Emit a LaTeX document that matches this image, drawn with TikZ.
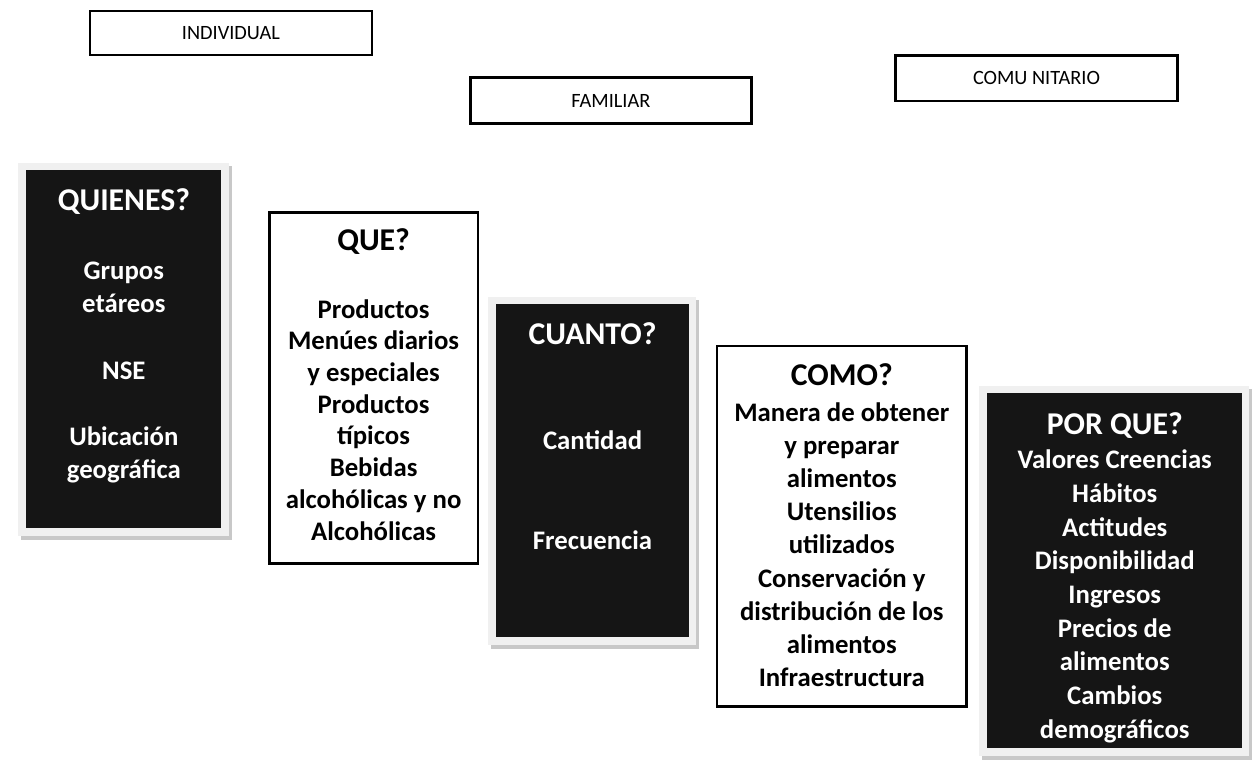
\documentclass[tikz,border=0pt]{standalone}
\usepackage{fontspec}
\setmainfont{Carlito}
\usetikzlibrary{backgrounds}
\definecolor{boxblack}{HTML}{151515}
\definecolor{framegray}{HTML}{F0F0F0}
\definecolor{shadegray}{HTML}{C8C8C8}
\tikzset{
  lbl/.style={draw=black, line width=2.5pt, fill=white, inner sep=0pt,
    font=\fontsize{20.5}{24}\selectfont},
  wbox/.style={draw=black, line width=2.5pt, fill=white, inner sep=0pt},
  bbox/.style={fill=boxblack, inner sep=0pt},
  ttl/.style={font=\bfseries\fontsize{32}{38}\selectfont, inner sep=0pt, anchor=base},
  body/.style={font=\bfseries\fontsize{27}{33.5}\selectfont, inner sep=0pt,
    anchor=base, align=flush center, text width=250pt},
  onblack/.style={text=white},
}
\newcommand\blkframe[1]{%
  \begin{scope}[on background layer]
    \fill[shadegray] ([shift={(-5,-4)}]#1.north west) rectangle ([shift={(10,12)}]#1.south east);
    \fill[framegray] ([shift={(-8,-7)}]#1.north west) rectangle ([shift={(7,8)}]#1.south east);
  \end{scope}}
\begin{document}
\begin{tikzpicture}[x=1pt,y=-1pt]
\begin{scope}[on background layer]
  \path[use as bounding box, fill=white] (0,0) rectangle (1254,760);
\end{scope}

% top labels
\node[lbl, minimum width=284.5pt, minimum height=44.5pt] (individual) at (221.5,33.5) {INDIVIDUAL};
\node[lbl, minimum width=283.5pt, minimum height=46.5pt] (familiar) at (605,101.5) {FAMILIAR};
\node[lbl, minimum width=284.5pt, minimum height=45.5pt] (comunitario) at (1034.5,79) {COMU NITARIO};

% QUIENES
\node[bbox, minimum width=197pt, minimum height=361pt] (quienes) at (113.5,352.5) {};
\blkframe{quienes}
\node[ttl, onblack] (quienesT) at (113.5,212) {QUIENES?};
\node[body, onblack] (quienesB) at (113.5,282) {Grupos\\etáreos\\[33.5pt]NSE\\[33.5pt]Ubicación\\geográfica};

% QUE
\node[wbox, minimum width=210.5pt, minimum height=354.5pt] (que) at (365.5,391.5) {};
\node[ttl] (queT) at (365.5,253) {QUE?};
\node[body, font=\bfseries\fontsize{27}{32}\selectfont] (queB) at (365.5,321) {Productos\\Menúes diarios\\y especiales\\Productos\\típicos\\Bebidas\\alcohólicas y no\\Alcohólicas};

% CUANTO
\node[bbox, minimum width=195pt, minimum height=336pt] (cuanto) at (586.5,475) {};
\blkframe{cuanto}
\node[ttl, onblack] (cuantoT) at (586.5,348) {CUANTO?};
\node[body, onblack] (cuantoB) at (586.5,454) {Cantidad\\[67pt]Frecuencia};

% COMO
\node[wbox, minimum width=251.5pt, minimum height=363.5pt] (como) at (838,531) {};
\node[ttl] (comoT) at (838,389) {COMO?};
\node[body] (comoB) at (838,425) {Manera de obtener\\y preparar\\alimentos\\Utensilios\\utilizados\\Conservación y\\distribución de los\\alimentos\\Infraestructura};

% POR QUE
\node[bbox, minimum width=257pt, minimum height=358pt] (porque) at (1113.5,576) {};
\blkframe{porque}
\node[ttl, onblack] (porqueT) at (1113.5,438) {POR QUE?};
\node[body, onblack, font=\bfseries\fontsize{27}{34}\selectfont] (porqueB) at (1113.5,473) {Valores Creencias\\Hábitos\\Actitudes\\Disponibilidad\\Ingresos\\Precios de\\alimentos\\Cambios\\demográficos};
\end{tikzpicture}
\end{document}
